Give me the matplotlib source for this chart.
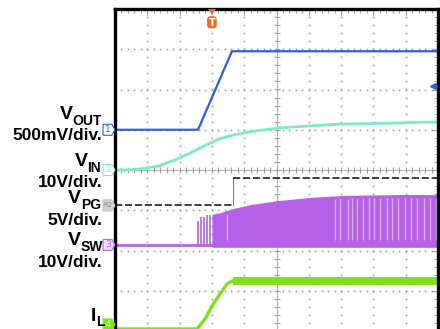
import numpy as np
import matplotlib
matplotlib.use("Agg")
import matplotlib.pyplot as plt
from matplotlib.patches import Polygon, FancyBboxPatch
from matplotlib.ticker import MultipleLocator, NullFormatter

W, H = 440, 329

# scope traces, read in screen divisions (10 x 8)
vout_t = [0, 2.57, 3.62, 10]
vout_v = [5.0, 5.0, 6.95, 6.95]

vin_t = [0, 0.46, 0.93, 1.39, 1.86, 2.32, 2.79, 3.25, 3.72, 4.18, 4.64, 5.11, 5.73, 6.35, 6.97, 7.59, 8.2, 8.82, 9.44, 10]
vin_v = [4.0, 4.0, 4.04, 4.11, 4.25, 4.42, 4.61, 4.78, 4.88, 4.95, 5.0, 5.05, 5.08, 5.11, 5.14, 5.15, 5.16, 5.17, 5.19, 5.19]

vpg_t = [0, 3.65, 3.65, 10]
vpg_v = [3.12, 3.12, 3.79, 3.79]

vsw_base = 2.14
vsw_t = [3.0, 3.25, 3.65, 4.18, 5.05, 6.04, 7.12, 8.82, 10]
vsw_top = [2.90, 2.94, 3.04, 3.14, 3.24, 3.32, 3.37, 3.39, 3.39]
vsw_spike_t = [2.57, 2.66, 2.76, 2.85, 2.94]
vsw_spike_v = [2.74, 2.82, 2.84, 2.87, 2.87]
vsw_skip_t = [3.47, 6.81, 6.97, 7.21, 7.34, 7.49, 7.68, 7.86, 8.02, 8.2, 8.42, 8.58, 8.76, 8.98, 9.16, 9.35, 9.57, 9.75, 9.94]

il_t = [0, 2.54, 2.79, 3.0, 3.25, 3.47, 3.65, 10]
il_v = [0.05, 0.05, 0.30, 0.62, 0.92, 1.17, 1.25, 1.25]

blue = '#2e5ee0'
cyan = '#7ee8cc'
purple = '#b561e8'
green = '#80e01c'
orange = '#f26b21'
grid = '#a0a0a0'

font = dict(family='Liberation Sans', weight='bold', color='black')

fig = plt.figure(figsize=(W / 100, H / 100), dpi=100)
ax = fig.add_axes([115 / W, -2 / H, 323 / W, 322 / H])
ax.set_xlim(0, 10)
ax.set_ylim(0, 8)
for s in ax.spines.values():
    s.set_linewidth(2.4)
    s.set_zorder(10)

ax.xaxis.set_minor_locator(MultipleLocator(0.2))
ax.yaxis.set_minor_locator(MultipleLocator(0.2))
ax.xaxis.set_major_locator(MultipleLocator(1))
ax.yaxis.set_major_locator(MultipleLocator(1))
ax.xaxis.set_major_formatter(NullFormatter())
ax.yaxis.set_major_formatter(NullFormatter())
ax.tick_params(which='both', direction='in', top=True, right=True, left=False,
               bottom=False, color=grid, width=0.8)
ax.tick_params(which='minor', length=3)
ax.tick_params(which='major', length=4)

# grid dots
for gx in range(1, 10):
    if gx == 5:
        continue
    yy = np.arange(0.2, 8, 0.2)
    ax.plot(np.full_like(yy, gx), yy, ls='none', marker='s', ms=1.2, mew=0, color=grid, zorder=1)
for gy in range(1, 8):
    if gy == 4:
        continue
    xx = np.arange(0.2, 10, 0.2)
    ax.plot(xx, np.full_like(xx, gy), ls='none', marker='s', ms=1.2, mew=0, color=grid, zorder=1)
# center cross with ticks
ax.axvline(5, color=grid, lw=0.6, zorder=1)
ax.axhline(4, color=grid, lw=0.6, zorder=1)
yy = np.arange(0.2, 8, 0.2)
ax.plot(np.full_like(yy, 5), yy, ls='none', marker='_', ms=4, mew=0.8, color=grid, zorder=1)
xx = np.arange(0.2, 10, 0.2)
ax.plot(xx, np.full_like(xx, 4), ls='none', marker='|', ms=4, mew=0.8, color=grid, zorder=1)

# traces
ax.plot(vout_t, vout_v, color=blue, lw=1.6, zorder=4)
ax.plot(vin_t, vin_v, color=cyan, lw=2.0, zorder=4)
ax.plot(vpg_t[:2], vpg_v[:2], color='#303030', lw=1.3, ls=(0, (4, 1.5)), zorder=4)
ax.plot(vpg_t[1:3], vpg_v[1:3], color='#808080', lw=0.8, zorder=4)
ax.plot(vpg_t[2:], vpg_v[2:], color='#303030', lw=1.3, ls=(0, (4, 1.5)), zorder=4)

ax.plot([0, 10], [vsw_base, vsw_base], color=purple, lw=2.0, zorder=3)
ax.fill_between(vsw_t, vsw_base - 0.06, vsw_top, color=purple, lw=0, zorder=3)
ax.vlines(vsw_spike_t, vsw_base, vsw_spike_v, color=purple, lw=1.2, zorder=3)
skip_top = np.interp(vsw_skip_t, vsw_t, vsw_top) - 0.08
ax.vlines(vsw_skip_t, vsw_base + 0.12, skip_top, color='#dcaaf2', lw=1.0, zorder=3)

ax.plot(il_t, il_v, color=green, lw=2.4, zorder=4)
ax.fill_between(il_t[-2:], [v - 0.1 for v in il_v[-2:]], [v + 0.1 for v in il_v[-2:]],
                color=green, lw=0, zorder=4)


def ch_marker(y, label, edge, face, tc, fs=6.5):
    h = 5.5 / 40.1
    pts = [(-0.37, y - h), (-0.1, y - h), (0, y), (-0.1, y + h), (-0.37, y + h)]
    ax.add_patch(Polygon(pts, closed=True, fc=face, ec=edge, lw=0.8, clip_on=False, zorder=11))
    ax.text(-0.22, y, label, color=tc, fontsize=fs, ha='center', va='center',
            clip_on=False, zorder=12)


ch_marker(5.0, '1', blue, 'white', blue)
ch_marker(4.0, '2', cyan, 'white', cyan)
ch_marker(3.12, 'R2', '#c0c0c0', '#d4d4d4', '#8a8a8a', fs=5)
ch_marker(2.14, '3', purple, '#f0e0fa', purple)
ch_marker(0.16, '4', green, green, 'white', fs=6)

# trigger position marker
ax.add_patch(Polygon([(2.88, 8.0), (3.12, 8.0), (3.0, 7.86)], closed=True, fc=orange, ec='none',
                     clip_on=False, zorder=12))
ax.add_patch(FancyBboxPatch((2.85, 7.52), 0.3, 0.3, boxstyle='round,pad=0.0,rounding_size=0.1',
                            fc=orange, ec='none', clip_on=False, zorder=12))
ax.text(3.0, 7.66, 'T', color='white', fontsize=7, ha='center', va='center', weight='bold', zorder=13)
# trigger level marker
ax.plot([9.85], [6.08], marker='<', ms=4, color=blue, zorder=12)
ax.plot([9.85, 9.97], [6.08, 6.08], color=blue, lw=0.8, zorder=12)

renderer = fig.canvas.get_renderer()


def label(x, y, main, sub=None, dy=6):
    if sub is None:
        fig.text(x / W, 1 - y / H, main, fontsize=12.5, ha='right', va='baseline', **font)
        return
    t = fig.text(x / W, 1 - (y + dy) / H, sub, fontsize=10, ha='right', va='baseline', **font)
    bb = t.get_window_extent(renderer=renderer)
    fig.text(bb.x0 / W, 1 - y / H, main, fontsize=14, ha='right', va='baseline', **font)


label(102, 119, 'V', 'OUT')
label(102, 140, '500mV/div.')
label(101, 166, 'V', 'IN')
label(102, 187, '10V/div.')
label(101, 203, 'V', 'PG')
label(102, 225, '5V/div.')
label(103, 245, 'V', 'SW')
label(102, 267, '10V/div.')
label(104, 321, 'I', 'L', dy=5)

fig.savefig('out.png', dpi=100)
